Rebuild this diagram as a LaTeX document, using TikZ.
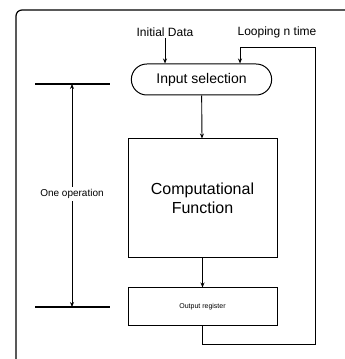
\documentclass[tikz,border=0pt]{standalone}
\usepackage{fontspec}
\setmainfont{Liberation Sans}
\usetikzlibrary{arrows.meta, shapes.misc, positioning}

\begin{document}
\begin{tikzpicture}[
    x=1pt, y=1pt,
    stage/.style={
        rectangle, draw, line width=1pt, fill=white,
        minimum width=149pt, align=center
    },
    pill/.style={
        rounded rectangle, draw, line width=1pt,
        minimum width=147pt, minimum height=31pt,
        font=\fontsize{14}{16}\selectfont
    },
    lbl/.style={font=\fontsize{12}{14}\selectfont, inner sep=1pt},
    >={Stealth[length=5pt, width=4pt]}, line width=0.9pt
]
\useasboundingbox (0,0) rectangle (345,359);

% outer frame (cut by the page edge)
\begin{scope}
\clip (0,0) rectangle (345,359);
\draw[line width=1.2pt, rounded corners=6pt] (16,-10) -- (16,349) -- (360,349);
\end{scope}

\node[pill] (insel) at (201.5,279.5) {Input selection};
\node[stage, minimum height=119pt, font=\fontsize{16}{19}\selectfont] (cf) at (202.5,160.5) {Computational\\Function};
\node[stage, minimum height=38pt, font=\fontsize{7}{8}\selectfont] (outbox) at (202.5,52) {Output register};

\node[lbl] (idata) at (165,327) {Initial Data};
\node[lbl] (loop) at (277,327) {Looping n time};

\coordinate (loopbr) at (315,15);
\coordinate (loopin) at (240,312);

\draw[->] (idata) -- (idata |- insel.north);
\draw[->] (insel) -- (cf);
\draw[->] (cf) -- (outbox);
\draw[->] (outbox.south) |- (loopbr) |- (loopin) -- (loopin |- insel.north);

% one operation span
\coordinate (topl) at (35,275);
\coordinate (topr) at (110,275);
\coordinate (botl) at (35,52);
\coordinate (botr) at (110,52);
\draw[line width=1.2pt] (topl) -- (topr);
\draw[line width=1.2pt] (botl) -- (botr);
\node[font=\fontsize{10}{12}\selectfont, inner sep=2pt] (oneop) at (72,165) {One operation};
\draw[->] (oneop) -- (oneop |- topl);
\draw[->] (oneop) -- (oneop |- botl);

\end{tikzpicture}
\end{document}
